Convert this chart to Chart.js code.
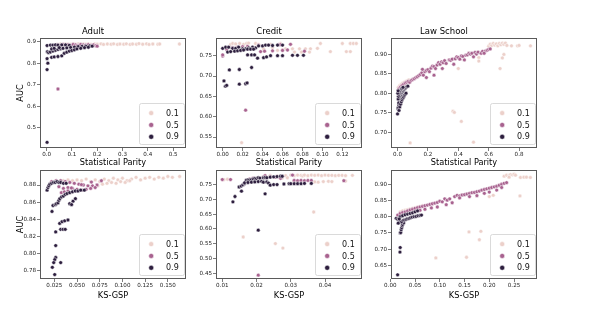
<!DOCTYPE html>
<html>
<head>
<meta charset="utf-8">
<script src="https://cdn.jsdelivr.net/npm/chart.js@4/dist/chart.umd.min.js"></script>
<style>
  html, body { margin: 0; padding: 0; background: #ffffff; }
  body { width: 601px; height: 320px; position: relative; overflow: hidden; }
  .panel { position: absolute; }
  canvas { display: block; }
</style>
</head>
<body>
<div class="panel" id="p1" style="left:0px;top:0px;"><canvas id="c1" width="194" height="168"></canvas></div>
<div class="panel" id="p2" style="left:176px;top:0px;"><canvas id="c2" width="194" height="168"></canvas></div>
<div class="panel" id="p3" style="left:351px;top:0px;"><canvas id="c3" width="194" height="168"></canvas></div>
<div class="panel" id="p4" style="left:0px;top:165px;"><canvas id="c4" width="194" height="136"></canvas></div>
<div class="panel" id="p5" style="left:176px;top:165px;"><canvas id="c5" width="194" height="136"></canvas></div>
<div class="panel" id="p6" style="left:351px;top:165px;"><canvas id="c6" width="194" height="136"></canvas></div>
<script>
// ---------------- DATA ----------------
const hueLabels = ['0.1', '0.5', '0.9'];
const datasetTitles = ['Adult', 'Credit', 'Law School'];
const metricSP = 'Statistical Parity';
const metricKS = 'KS-GSP';
const metricY = 'AUC';

// Tick labels
const adultSP_xTicks = ['0.0','0.1','0.2','0.3','0.4','0.5'];
const adultSP_yTicks = ['0.5','0.6','0.7','0.8','0.9'];
const creditSP_xTicks = ['0.00','0.02','0.04','0.06','0.08','0.10','0.12'];
const creditSP_yTicks = ['0.55','0.60','0.65','0.70','0.75'];
const lawSP_xTicks = ['0.0','0.2','0.4','0.6','0.8'];
const lawSP_yTicks = ['0.70','0.75','0.80','0.85','0.90'];
const adultKS_xTicks = ['0.025','0.050','0.075','0.100','0.125','0.150'];
const adultKS_yTicks = ['0.78','0.80','0.82','0.84','0.86','0.88'];
const creditKS_xTicks = ['0.01','0.02','0.03','0.04'];
const creditKS_yTicks = ['0.45','0.50','0.55','0.60','0.65','0.70','0.75'];
const lawKS_xTicks = ['0.00','0.05','0.10','0.15','0.20','0.25'];
const lawKS_yTicks = ['0.65','0.70','0.75','0.80','0.85','0.90'];

// ---- Adult / Statistical Parity ----
const adultSP_h01 = [[0.04,0.887],[0.055,0.889],[0.065,0.886],[0.075,0.890],[0.085,0.888],[0.095,0.887],[0.105,0.889],[0.115,0.888],[0.125,0.890],[0.135,0.887],[0.145,0.889],[0.155,0.888],[0.165,0.890],[0.175,0.887],[0.19,0.889],[0.20,0.888],[0.215,0.890],[0.225,0.887],[0.24,0.889],[0.255,0.888],[0.265,0.890],[0.28,0.887],[0.29,0.889],[0.305,0.888],[0.315,0.890],[0.33,0.887],[0.34,0.889],[0.355,0.888],[0.365,0.891],[0.38,0.888],[0.395,0.890],[0.405,0.887],[0.42,0.889],[0.44,0.888],[0.447,0.889],[0.525,0.889]];
const adultSP_h05 = [[0.03,0.884],[0.045,0.886],[0.055,0.882],[0.065,0.887],[0.075,0.884],[0.085,0.886],[0.095,0.883],[0.105,0.887],[0.115,0.885],[0.125,0.883],[0.135,0.887],[0.145,0.885],[0.155,0.884],[0.165,0.886],[0.175,0.883],[0.185,0.885],[0.195,0.881],[0.20,0.879],[0.06,0.877],[0.09,0.879],[0.12,0.880],[0.15,0.880],[0.045,0.680]];
const adultSP_h09 = [[0.002,0.882],[0.015,0.884],[0.025,0.884],[0.035,0.885],[0.045,0.884],[0.06,0.885],[0.075,0.885],[0.09,0.883],[0.003,0.853],[0.008,0.849],[0.015,0.852],[0.025,0.856],[0.035,0.860],[0.045,0.864],[0.055,0.867],[0.065,0.869],[0.08,0.871],[0.095,0.873],[0.11,0.875],[0.125,0.877],[0.14,0.878],[0.155,0.879],[0.17,0.880],[0.18,0.879],[0.02,0.827],[0.03,0.829],[0.045,0.831],[0.06,0.834],[0.07,0.846],[0.08,0.851],[0.09,0.856],[0.10,0.859],[0.11,0.862],[0.12,0.866],[0.135,0.869],[0.15,0.872],[0.165,0.874],[0.02,0.866],[0.03,0.869],[0.05,0.872],[0.002,0.821],[0.005,0.800],[0.002,0.770],[0.002,0.432]];

// ---- Credit / Statistical Parity ----
const creditSP_h01 = [[0.008,0.778],[0.010,0.780],[0.013,0.779],[0.017,0.780],[0.021,0.778],[0.024,0.780],[0.026,0.781],[0.033,0.780],[0.036,0.778],[0.048,0.778],[0.058,0.780],[0.068,0.778],[0.098,0.780],[0.120,0.780],[0.128,0.780],[0.131,0.780],[0.134,0.780],[0.024,0.767],[0.041,0.767],[0.050,0.770],[0.063,0.767],[0.070,0.767],[0.077,0.767],[0.083,0.767],[0.088,0.767],[0.095,0.768],[0.072,0.759],[0.079,0.759],[0.087,0.759],[0.108,0.760],[0.124,0.760],[0.128,0.760],[0.055,0.763],[0.060,0.764],[0.019,0.536]];
const creditSP_h05 = [[0.000,0.749],[0.000,0.752],[0.004,0.765],[0.010,0.770],[0.015,0.771],[0.020,0.772],[0.025,0.773],[0.036,0.776],[0.046,0.776],[0.056,0.777],[0.058,0.777],[0.068,0.778],[0.038,0.760],[0.042,0.761],[0.050,0.762],[0.060,0.763],[0.065,0.764],[0.082,0.761],[0.023,0.616]];
const creditSP_h09 = [[0.000,0.768],[0.003,0.771],[0.006,0.771],[0.010,0.768],[0.013,0.768],[0.016,0.771],[0.020,0.767],[0.023,0.767],[0.026,0.769],[0.030,0.771],[0.033,0.769],[0.036,0.774],[0.040,0.774],[0.043,0.776],[0.046,0.776],[0.050,0.775],[0.055,0.776],[0.060,0.776],[0.005,0.759],[0.008,0.760],[0.012,0.761],[0.015,0.762],[0.018,0.763],[0.021,0.764],[0.025,0.766],[0.028,0.766],[0.031,0.766],[0.025,0.752],[0.029,0.752],[0.032,0.752],[0.035,0.744],[0.041,0.745],[0.044,0.747],[0.048,0.750],[0.055,0.750],[0.060,0.750],[0.070,0.751],[0.075,0.751],[0.081,0.751],[0.0067,0.715],[0.0167,0.716],[0.029,0.721],[0.0013,0.688],[0.0027,0.675],[0.004,0.677],[0.0167,0.680],[0.023,0.681],[0.0245,0.683]];

// ---- Law School / Statistical Parity ----
const lawSP_h01 = [[0.005,0.815],[0.015,0.820],[0.025,0.823],[0.035,0.826],[0.045,0.828],[0.055,0.830],[0.065,0.832],[0.075,0.834],[0.010,0.803],[0.020,0.807],[0.030,0.810],[0.040,0.813],[0.050,0.815],[0.060,0.818],[0.60,0.920],[0.61,0.925],[0.62,0.922],[0.63,0.927],[0.64,0.923],[0.65,0.926],[0.66,0.921],[0.67,0.927],[0.68,0.924],[0.69,0.928],[0.70,0.925],[0.71,0.928],[0.72,0.922],[0.75,0.921],[0.79,0.921],[0.80,0.922],[0.875,0.921],[0.70,0.899],[0.69,0.890],[0.675,0.863],[0.40,0.863],[0.535,0.891],[0.535,0.882],[0.365,0.754],[0.374,0.751],[0.42,0.728],[0.083,0.673],[0.50,0.675]];
const lawSP_h05 = [[0.005,0.808],[0.010,0.812],[0.020,0.816],[0.030,0.820],[0.040,0.823],[0.050,0.826],[0.060,0.828],[0.070,0.830],[0.080,0.828],[0.090,0.833],[0.10,0.835],[0.11,0.837],[0.12,0.840],[0.13,0.842],[0.14,0.845],[0.15,0.848],[0.16,0.852],[0.17,0.846],[0.18,0.855],[0.19,0.858],[0.20,0.860],[0.21,0.855],[0.22,0.864],[0.23,0.869],[0.24,0.868],[0.25,0.863],[0.26,0.872],[0.27,0.878],[0.28,0.874],[0.29,0.880],[0.30,0.878],[0.31,0.883],[0.32,0.876],[0.34,0.885],[0.35,0.884],[0.36,0.887],[0.37,0.874],[0.38,0.888],[0.39,0.893],[0.40,0.891],[0.41,0.887],[0.42,0.895],[0.43,0.894],[0.44,0.885],[0.45,0.897],[0.46,0.898],[0.47,0.902],[0.48,0.900],[0.49,0.902],[0.50,0.893],[0.51,0.904],[0.52,0.900],[0.53,0.905],[0.55,0.902],[0.56,0.907],[0.58,0.908],[0.59,0.910],[0.60,0.912],[0.61,0.913],[0.19,0.840],[0.24,0.846],[0.295,0.863],[0.164,0.861],[0.57,0.902]];
const lawSP_h09 = [[0.000,0.747],[0.003,0.760],[0.005,0.764],[0.008,0.770],[0.010,0.756],[0.012,0.776],[0.015,0.780],[0.018,0.785],[0.020,0.790],[0.023,0.794],[0.026,0.798],[0.030,0.801],[0.034,0.804],[0.038,0.806],[0.042,0.809],[0.047,0.811],[0.052,0.813],[0.057,0.815],[0.062,0.817],[0.068,0.818],[0.004,0.785],[0.006,0.792],[0.009,0.797],[0.012,0.801],[0.016,0.805],[0.020,0.808],[0.025,0.811],[0.030,0.813],[0.036,0.815],[0.002,0.800],[0.004,0.806],[0.008,0.775],[0.015,0.765],[0.020,0.772],[0.025,0.778],[0.030,0.783],[0.035,0.787],[0.040,0.790],[0.045,0.794],[0.050,0.797],[0.056,0.800]];

// ---- Adult / KS-GSP ----
const adultKS_h01 = [[0.030,0.884],[0.035,0.885],[0.040,0.886],[0.045,0.885],[0.050,0.886],[0.055,0.885],[0.060,0.887],[0.065,0.884],[0.070,0.886],[0.075,0.884],[0.080,0.887],[0.085,0.885],[0.090,0.888],[0.095,0.886],[0.100,0.888],[0.105,0.885],[0.110,0.887],[0.115,0.889],[0.120,0.886],[0.125,0.888],[0.130,0.889],[0.135,0.887],[0.140,0.889],[0.145,0.888],[0.150,0.890],[0.155,0.889],[0.163,0.890],[0.073,0.879],[0.078,0.881],[0.083,0.882],[0.088,0.883],[0.093,0.882],[0.098,0.884],[0.103,0.883],[0.108,0.885]];
const adultKS_h05 = [[0.022,0.884],[0.027,0.885],[0.032,0.885],[0.037,0.884],[0.042,0.883],[0.047,0.882],[0.052,0.881],[0.057,0.880],[0.062,0.879],[0.067,0.879],[0.072,0.880],[0.030,0.878],[0.035,0.876],[0.040,0.877],[0.045,0.876],[0.050,0.875],[0.055,0.874],[0.060,0.875],[0.065,0.876],[0.070,0.877],[0.0327,0.871],[0.036,0.872],[0.040,0.873],[0.0438,0.8765],[0.0548,0.8804],[0.0658,0.8835],[0.0768,0.885]];
const adultKS_h09 = [[0.017,0.874],[0.018,0.877],[0.019,0.879],[0.020,0.881],[0.022,0.882],[0.024,0.883],[0.026,0.883],[0.028,0.884],[0.030,0.883],[0.032,0.883],[0.035,0.882],[0.038,0.882],[0.0224,0.849],[0.0235,0.856],[0.026,0.857],[0.0272,0.858],[0.029,0.859],[0.030,0.862],[0.031,0.864],[0.033,0.866],[0.035,0.867],[0.037,0.869],[0.039,0.870],[0.042,0.871],[0.045,0.872],[0.048,0.873],[0.051,0.873],[0.054,0.874],[0.058,0.874],[0.0419,0.858],[0.0456,0.861],[0.0482,0.864],[0.044,0.857],[0.0265,0.825],[0.0309,0.835],[0.0335,0.837],[0.0364,0.838],[0.040,0.839],[0.032,0.828],[0.0346,0.828],[0.037,0.828],[0.0265,0.809],[0.0265,0.795],[0.0254,0.7925],[0.0243,0.789],[0.0228,0.7835],[0.032,0.789],[0.0254,0.775]];

// ---- Credit / KS-GSP ----
const creditKS_h01 = [[0.0105,0.766],[0.0115,0.767],[0.0225,0.779],[0.024,0.780],[0.026,0.778],[0.0285,0.779],[0.030,0.781],[0.031,0.779],[0.032,0.781],[0.033,0.780],[0.0335,0.778],[0.034,0.781],[0.035,0.779],[0.036,0.781],[0.037,0.780],[0.038,0.781],[0.039,0.779],[0.040,0.781],[0.041,0.780],[0.042,0.780],[0.043,0.779],[0.044,0.780],[0.045,0.780],[0.046,0.779],[0.048,0.780],[0.031,0.760],[0.032,0.761],[0.037,0.758],[0.038,0.757],[0.0395,0.759],[0.041,0.760],[0.042,0.759],[0.046,0.761],[0.0275,0.771],[0.029,0.772],[0.0161,0.573],[0.0255,0.551],[0.0277,0.536],[0.0367,0.657]];
const creditKS_h05 = [[0.0100,0.766],[0.0124,0.766],[0.022,0.775],[0.0225,0.779],[0.024,0.776],[0.0255,0.774],[0.027,0.770],[0.0305,0.781],[0.031,0.763],[0.032,0.762],[0.033,0.763],[0.034,0.762],[0.035,0.763],[0.036,0.763],[0.0455,0.762],[0.019,0.771],[0.018,0.768],[0.0205,0.445]];
const creditKS_h09 = [[0.0131,0.691],[0.0137,0.709],[0.0156,0.727],[0.0149,0.741],[0.0155,0.744],[0.016,0.748],[0.0165,0.752],[0.017,0.764],[0.0175,0.765],[0.018,0.765],[0.0185,0.766],[0.019,0.768],[0.0195,0.770],[0.020,0.769],[0.0205,0.772],[0.021,0.771],[0.022,0.772],[0.0225,0.773],[0.023,0.772],[0.024,0.774],[0.025,0.775],[0.026,0.776],[0.027,0.777],[0.0275,0.777],[0.0165,0.755],[0.0175,0.756],[0.0185,0.757],[0.0195,0.758],[0.0205,0.759],[0.0215,0.760],[0.022,0.757],[0.023,0.758],[0.0235,0.754],[0.024,0.747],[0.025,0.749],[0.026,0.749],[0.028,0.751],[0.0295,0.752],[0.030,0.752],[0.031,0.752],[0.032,0.752],[0.033,0.752],[0.034,0.753],[0.036,0.753],[0.0225,0.718],[0.0205,0.596]];

// ---- Law School / KS-GSP ----
const lawKS_h01 = [[0.020,0.815],[0.025,0.818],[0.030,0.820],[0.035,0.822],[0.040,0.824],[0.045,0.826],[0.050,0.828],[0.055,0.830],[0.060,0.832],[0.065,0.834],[0.030,0.808],[0.040,0.812],[0.050,0.816],[0.230,0.925],[0.235,0.928],[0.240,0.927],[0.243,0.930],[0.247,0.929],[0.250,0.931],[0.253,0.928],[0.240,0.922],[0.263,0.921],[0.270,0.922],[0.275,0.922],[0.283,0.921],[0.262,0.864],[0.200,0.862],[0.208,0.866],[0.092,0.673],[0.154,0.675],[0.159,0.753],[0.183,0.755],[0.180,0.729]];
const lawKS_h05 = [[0.015,0.805],[0.020,0.810],[0.025,0.813],[0.030,0.815],[0.035,0.818],[0.040,0.821],[0.045,0.823],[0.050,0.826],[0.055,0.828],[0.060,0.830],[0.065,0.832],[0.070,0.834],[0.075,0.836],[0.080,0.838],[0.085,0.840],[0.090,0.842],[0.095,0.844],[0.100,0.848],[0.105,0.846],[0.110,0.855],[0.115,0.851],[0.120,0.855],[0.125,0.843],[0.130,0.862],[0.135,0.866],[0.140,0.864],[0.145,0.867],[0.150,0.868],[0.155,0.870],[0.160,0.872],[0.165,0.874],[0.170,0.875],[0.175,0.877],[0.180,0.879],[0.185,0.882],[0.190,0.884],[0.195,0.886],[0.200,0.888],[0.205,0.890],[0.210,0.892],[0.215,0.894],[0.220,0.897],[0.225,0.900],[0.230,0.903],[0.235,0.905],[0.113,0.837],[0.083,0.827],[0.140,0.858],[0.160,0.862],[0.175,0.865],[0.190,0.872],[0.200,0.876],[0.215,0.882],[0.225,0.890],[0.095,0.830],[0.060,0.820],[0.070,0.823]];
const lawKS_h09 = [[0.0148,0.621],[0.0195,0.691],[0.020,0.705],[0.020,0.750],[0.021,0.751],[0.022,0.760],[0.023,0.766],[0.024,0.772],[0.025,0.776],[0.027,0.781],[0.012,0.795],[0.015,0.792],[0.018,0.788],[0.020,0.786],[0.023,0.784],[0.026,0.789],[0.029,0.790],[0.032,0.792],[0.035,0.794],[0.038,0.795],[0.041,0.797],[0.044,0.799],[0.048,0.800],[0.052,0.801],[0.056,0.803],[0.060,0.804],[0.063,0.805],[0.020,0.800],[0.025,0.803],[0.030,0.806],[0.035,0.808],[0.040,0.810],[0.045,0.812],[0.050,0.815],[0.055,0.818],[0.018,0.793],[0.016,0.780]];

// ---------------- STYLE ----------------
const FONT = '"DejaVu Sans", "Liberation Sans", sans-serif';
const hueColors = ['#ecd0ca', '#a8628f', '#2d1e3e'];
const frameColor = '#5a5a5a';

const framePlugin = {
  id: 'frame',
  afterDatasetsDraw(chart) {
    const a = chart.chartArea, ctx = chart.ctx;
    ctx.save();
    ctx.strokeStyle = frameColor;
    ctx.lineWidth = 1;
    ctx.strokeRect(Math.round(a.left) + 0.5, Math.round(a.top) + 0.5,
                   Math.round(a.right - a.left) - 1, Math.round(a.bottom - a.top) - 1);
    ctx.restore();
  }
};

const legendPlugin = {
  id: 'hueLegend',
  afterDraw(chart) {
    const a = chart.chartArea, ctx = chart.ctx;
    const w = 45, h = 41;
    const x0 = Math.round(a.right - 2.5 - w) + 0.5;
    const y0 = Math.round(a.bottom - 4 - h) + 0.5;
    const r = 2;
    ctx.save();
    ctx.beginPath();
    ctx.moveTo(x0 + r, y0);
    ctx.lineTo(x0 + w - r, y0);
    ctx.arcTo(x0 + w, y0, x0 + w, y0 + r, r);
    ctx.lineTo(x0 + w, y0 + h - r);
    ctx.arcTo(x0 + w, y0 + h, x0 + w - r, y0 + h, r);
    ctx.lineTo(x0 + r, y0 + h);
    ctx.arcTo(x0, y0 + h, x0, y0 + h - r, r);
    ctx.lineTo(x0, y0 + r);
    ctx.arcTo(x0, y0, x0 + r, y0, r);
    ctx.closePath();
    ctx.fillStyle = 'rgba(255,255,255,0.8)';
    ctx.fill();
    ctx.strokeStyle = '#d0d0d0';
    ctx.lineWidth = 0.8;
    ctx.stroke();
    ctx.font = '8px ' + FONT;
    ctx.textBaseline = 'middle';
    ctx.textAlign = 'left';
    for (let i = 0; i < hueLabels.length; i++) {
      const cy = y0 + 9.6 + i * 11.85;
      ctx.beginPath();
      ctx.arc(x0 + 11.7, cy, 2.5, 0, Math.PI * 2);
      ctx.fillStyle = hueColors[i];
      ctx.fill();
      ctx.strokeStyle = '#ffffff';
      ctx.lineWidth = 0.5;
      ctx.stroke();
      ctx.fillStyle = '#111111';
      ctx.fillText(hueLabels[i], x0 + 26.5, cy + 0.5);
    }
    ctx.restore();
  }
};

function toXY(arr) { return arr.map(p => ({ x: p[0], y: p[1] })); }

function makeAxis(tickLabels, min, max, isX, opt) {
  const vals = tickLabels.map(Number);
  const ax = {
    type: 'linear',
    min: min,
    max: max,
    afterBuildTicks: s => { s.ticks = vals.map(v => ({ value: v })); },
    ticks: {
      autoSkip: false,
      maxRotation: 0,
      minRotation: 0,
      padding: isX ? 0 : 1,
      color: '#222222',
      font: { family: FONT, size: 5.6 },
      callback: (v, i) => tickLabels[i]
    },
    grid: {
      drawOnChartArea: false,
      drawTicks: true,
      tickLength: 3,
      color: frameColor,
      tickColor: frameColor,
      lineWidth: 0.8
    },
    border: { display: false },
    title: opt.title ? {
      display: true,
      text: opt.title,
      color: '#000000',
      font: { family: FONT, size: 8.2 },
      padding: isX ? { top: 0, bottom: opt.titlePad } : { top: opt.titlePad, bottom: 0 }
    } : { display: false },
    afterFit: s => { if (isX) s.height = opt.size; else s.width = opt.size; }
  };
  return ax;
}

function makeChart(canvasId, p) {
  const datasets = [p.h01, p.h05, p.h09].map((arr, i) => ({
    label: hueLabels[i],
    data: toXY(arr),
    backgroundColor: hueColors[i],
    borderColor: '#ffffff',
    borderWidth: 0.5,
    pointRadius: 1.9,
    pointHoverRadius: 1.9,
    order: 2 - i
  }));
  return new Chart(document.getElementById(canvasId), {
    type: 'scatter',
    data: { datasets },
    options: {
      responsive: false,
      animation: false,
      devicePixelRatio: 1,
      layout: { padding: { top: p.top ? 0 : 5, right: 8, bottom: 0, left: 0 } },
      plugins: {
        legend: { display: false },
        tooltip: { enabled: false },
        title: p.title ? {
          display: true,
          text: p.title,
          color: '#000000',
          font: { family: FONT, size: 8.5, weight: 'normal' },
          padding: { top: 27, bottom: 0.8 }
        } : { display: false }
      },
      scales: {
        x: makeAxis(p.xTicks, p.xMin, p.xMax, true,
          { title: p.xTitle, titlePad: p.top ? 0.6 : 0.7, size: p.top ? 20 : 22 }),
        y: makeAxis(p.yTicks, p.yMin, p.yMax, false,
          { title: p.yTitle, titlePad: 15.8, size: 40 })
      }
    },
    plugins: [framePlugin, legendPlugin]
  });
}

makeChart('c1', { title: datasetTitles[0], top: true, xTitle: metricSP, yTitle: metricY,
  xTicks: adultSP_xTicks, yTicks: adultSP_yTicks, xMin: -0.026, xMax: 0.551, yMin: 0.4056, yMax: 0.917,
  h01: adultSP_h01, h05: adultSP_h05, h09: adultSP_h09 });
makeChart('c2', { title: datasetTitles[1], top: true, xTitle: metricSP, yTitle: null,
  xTicks: creditSP_xTicks, yTicks: creditSP_yTicks, xMin: -0.0067, xMax: 0.1397, yMin: 0.523, yMax: 0.7935,
  h01: creditSP_h01, h05: creditSP_h05, h09: creditSP_h09 });
makeChart('c3', { title: datasetTitles[2], top: true, xTitle: metricSP, yTitle: null,
  xTicks: lawSP_xTicks, yTicks: lawSP_yTicks, xMin: -0.043, xMax: 0.918, yMin: 0.660, yMax: 0.941,
  h01: lawSP_h01, h05: lawSP_h05, h09: lawSP_h09 });
makeChart('c4', { title: null, top: false, xTitle: metricKS, yTitle: metricY,
  xTicks: adultKS_xTicks, yTicks: adultKS_yTicks, xMin: 0.0092, xMax: 0.170, yMin: 0.7698, yMax: 0.8976,
  h01: adultKS_h01, h05: adultKS_h05, h09: adultKS_h09 });
makeChart('c5', { title: null, top: false, xTitle: metricKS, yTitle: null,
  xTicks: creditKS_xTicks, yTicks: creditKS_yTicks, xMin: 0.00816, xMax: 0.0508, yMin: 0.432, yMax: 0.798,
  h01: creditKS_h01, h05: creditKS_h05, h09: creditKS_h09 });
makeChart('c6', { title: null, top: false, xTitle: metricKS, yTitle: null,
  xTicks: lawKS_xTicks, yTicks: lawKS_yTicks, xMin: 0.0014, xMax: 0.2964, yMin: 0.608, yMax: 0.944,
  h01: lawKS_h01, h05: lawKS_h05, h09: lawKS_h09 });
</script>
</body>
</html>
